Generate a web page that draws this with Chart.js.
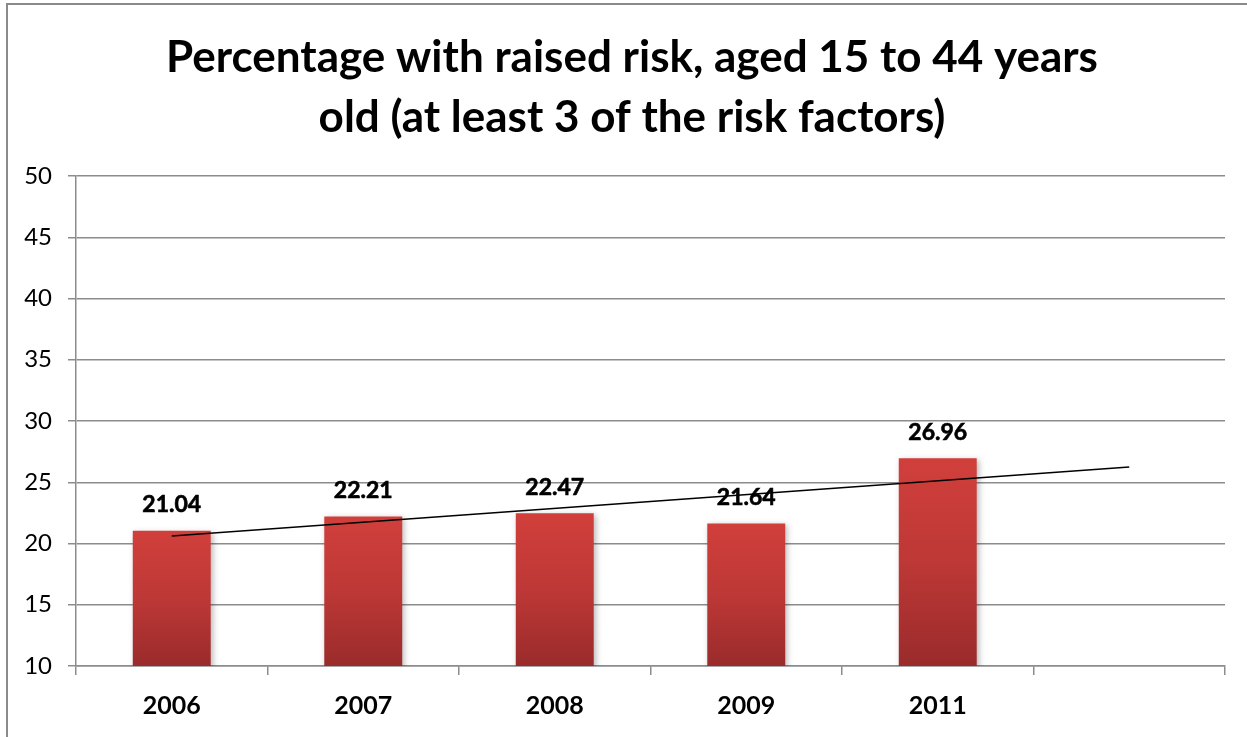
<!DOCTYPE html>
<html>
<head>
<meta charset="utf-8">
<script src="https://cdn.jsdelivr.net/npm/chart.js@4/dist/chart.umd.min.js"></script>
<style>
  html, body { margin: 0; padding: 0; background: #fff; overflow: hidden; }
  canvas { display: block; }
</style>
</head>
<body>
<canvas id="c" width="1247" height="737"></canvas>
<script>
const titleLines = ['Percentage with raised risk, aged 15 to 44 years', 'old (at least 3 of the risk factors)'];
const categories = ['2006', '2007', '2008', '2009', '2011', ''];
const values = [21.04, 22.21, 22.47, 21.64, 26.96, null];
const yMin = 10, yMax = 50, yStep = 5;

// Linear trendline (least squares) over the observed bars, forecast forward one period
function trend(vals) {
  const pts = vals.map((v, i) => [i, v]).filter(p => p[1] !== null);
  const n = pts.length;
  const mx = pts.reduce((s, p) => s + p[0], 0) / n;
  const my = pts.reduce((s, p) => s + p[1], 0) / n;
  let num = 0, den = 0;
  pts.forEach(p => { num += (p[0] - mx) * (p[1] - my); den += (p[0] - mx) ** 2; });
  const b = num / den, a = my - b * mx;
  return vals.map((v, i) => (i === 0 || i === vals.length - 1) ? a + b * i : null);
}
const trendValues = trend(values);

const GRID = '#8c8c8c';

const framePlugin = {
  id: 'frame',
  beforeDraw(chart) {
    const ctx = chart.ctx;
    ctx.save();
    ctx.fillStyle = '#fff';
    ctx.fillRect(0, 0, chart.width, chart.height);
    ctx.strokeStyle = '#8a8a8a';
    ctx.lineWidth = 2;
    ctx.strokeRect(7, 4, chart.width + 50, chart.height + 50);
    // title
    ctx.fillStyle = '#000';
    ctx.font = 'bold 44px Lato';
    ctx.textAlign = 'center';
    ctx.textBaseline = 'middle';
    titleLines.forEach((t, i) => ctx.fillText(t, 632, 58 + i * 60));
    ctx.restore();
  }
};

const shadowPlugin = {
  id: 'barShadow',
  beforeDatasetDraw(chart, args) {
    if (args.index !== 0) return;
    const ctx = chart.ctx;
    ctx.save();
    ctx.shadowColor = 'rgba(0,0,0,0.28)';
    ctx.shadowBlur = 6;
    ctx.shadowOffsetX = 2;
    ctx.shadowOffsetY = 2;
  },
  afterDatasetDraw(chart, args) {
    if (args.index !== 0) return;
    chart.ctx.restore();
  }
};

const labelPlugin = {
  id: 'barLabels',
  afterDatasetsDraw(chart) {
    const ctx = chart.ctx;
    const meta = chart.getDatasetMeta(0);
    ctx.save();
    ctx.font = 'bold 23px Lato';
    ctx.fillStyle = '#000';
    ctx.strokeStyle = '#000';
    ctx.lineWidth = 0.6;
    ctx.textAlign = 'center';
    ctx.textBaseline = 'middle';
    meta.data.forEach((el, i) => {
      const v = values[i];
      if (v === null) return;
      ctx.fillText(v.toFixed(2), el.x, el.y - 26);
      ctx.strokeText(v.toFixed(2), el.x, el.y - 26);
    });
    ctx.restore();
  }
};

const ctx = document.getElementById('c').getContext('2d');
new Chart(ctx, {
  data: {
    labels: categories,
    datasets: [
      {
        type: 'bar',
        data: values,
        order: 1,
        categoryPercentage: 1,
        barPercentage: 0.407,
        borderWidth: 0,
        backgroundColor(context) {
          const chart = context.chart;
          const { ctx, chartArea, scales } = chart;
          if (!chartArea || context.raw === null || context.raw === undefined) return '#c0392b';
          const top = scales.y.getPixelForValue(context.raw);
          const bottom = scales.y.getPixelForValue(yMin);
          const g = ctx.createLinearGradient(0, top, 0, bottom);
          g.addColorStop(0, '#d13f3b');
          g.addColorStop(0.5, '#bd3836');
          g.addColorStop(1, '#9a2b2b');
          return g;
        }
      },
      {
        type: 'line',
        data: trendValues,
        order: 0,
        spanGaps: true,
        borderColor: '#000',
        borderWidth: 1.6,
        pointRadius: 0,
        fill: false,
        tension: 0
      }
    ]
  },
  options: {
    responsive: false,
    devicePixelRatio: 1,
    animation: false,
    layout: { padding: { left: 0, right: 22, top: 176, bottom: 0 } },
    plugins: {
      legend: { display: false },
      tooltip: { enabled: false },
      title: { display: false }
    },
    scales: {
      x: {
        offset: true,
        grid: { offset: true, drawOnChartArea: false, drawTicks: true, tickLength: 9, color: GRID, lineWidth: 1.5 },
        border: { display: true, color: GRID, width: 1.5 },
        ticks: { color: '#000', font: { family: 'Lato', size: 25, weight: 'bold' }, padding: 16, maxRotation: 0 },
        afterFit(scale) { scale.height = 71; }
      },
      y: {
        min: yMin,
        max: yMax,
        ticks: { stepSize: yStep, color: '#000', font: { family: 'Lato', size: 24 }, padding: 16 },
        grid: { color: GRID, lineWidth: 1.5, tickLength: 8, drawTicks: true },
        border: { display: true, color: GRID, width: 1.5 },
        afterFit(scale) { scale.width = 76; }
      }
    }
  },
  plugins: [framePlugin, shadowPlugin, labelPlugin]
});
</script>
</body>
</html>
